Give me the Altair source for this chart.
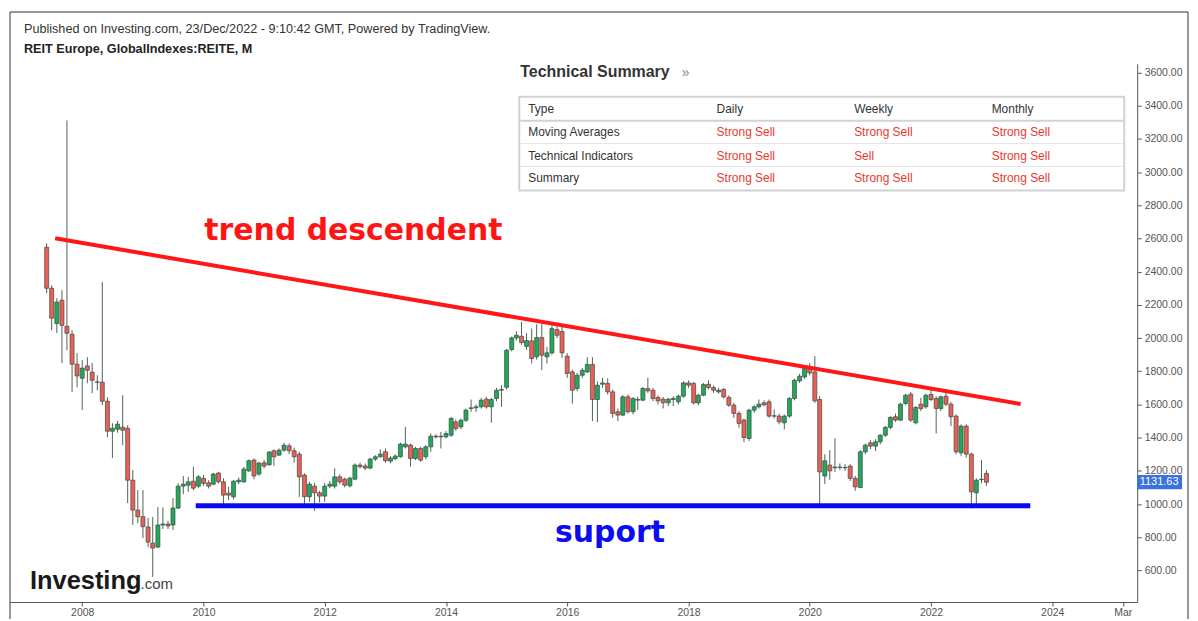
import altair as alt
import pandas as pd

# ---------------- data (monthly candles, Jun 2007 .. Dec 2022) ----------------
first_month = "2007-06-01"

opens = [
    2547, 2300, 2088, 2228, 2071, 2023, 1843,
    1758, 1832, 1795, 1736, 1734, 1620, 1439, 1451, 1463, 1457, 1144, 964,
    924, 862, 765, 741, 874, 880, 874, 976, 1108, 1114, 1138, 1108,
    1155, 1128, 1120, 1187, 1134, 1066, 1044, 1134, 1134, 1200, 1265, 1181,
    1249, 1237, 1321, 1295, 1325, 1351, 1321, 1301, 1175, 1044, 1108, 1068,
    1048, 1108, 1108, 1164, 1150, 1110, 1150, 1235, 1229, 1217, 1271, 1285,
    1315, 1259, 1273, 1285, 1345, 1355, 1275, 1335, 1285, 1345, 1409, 1405,
    1405, 1415, 1495, 1465, 1505, 1576, 1580, 1586, 1632, 1586, 1636, 1686,
    1704, 1931, 2001, 2011, 1950, 1983, 1887, 2003, 1887, 1911, 2051, 2040,
    1891, 1796, 1696, 1776, 1796, 1841, 1630, 1722, 1727, 1676, 1556, 1536,
    1646, 1556, 1630, 1626, 1696, 1686, 1642, 1632, 1610, 1630, 1616, 1650,
    1730, 1727, 1610, 1656, 1722, 1702, 1676, 1690, 1642, 1596, 1546, 1506,
    1395, 1566, 1586, 1610, 1616, 1530, 1530, 1490, 1530, 1636, 1742, 1766,
    1823, 1796, 1630, 1169, 1235, 1219, 1223, 1221, 1229, 1155, 1100, 1315,
    1369, 1349, 1375, 1415, 1462, 1526, 1506, 1606, 1662, 1490, 1602, 1586,
    1660, 1636, 1576, 1650, 1602, 1530, 1309, 1470, 1301, 1068, 1147, 1185,
]
highs = [
    2571, 2318, 2240, 2288, 3311, 2047, 1909,
    1867, 1885, 1849, 1776, 2338, 1644, 1487, 1500, 1656, 1475, 1205, 1084,
    1084, 916, 922, 982, 980, 900, 1036, 1126, 1170, 1164, 1225, 1175,
    1175, 1144, 1188, 1194, 1156, 1104, 1144, 1160, 1225, 1269, 1275, 1255,
    1265, 1320, 1329, 1335, 1370, 1365, 1340, 1315, 1185, 1134, 1128, 1080,
    1128, 1140, 1215, 1180, 1160, 1165, 1245, 1250, 1245, 1280, 1295, 1329,
    1335, 1290, 1300, 1370, 1465, 1365, 1345, 1345, 1355, 1425, 1420, 1435,
    1440, 1525, 1510, 1515, 1575, 1630, 1600, 1640, 1645, 1640, 1700, 1716,
    1935, 2010, 2040, 2097, 2030, 2057, 2083, 2089, 1947, 2077, 2070, 2067,
    1910, 1810, 1790, 1820, 1885, 1885, 1740, 1760, 1757, 1690, 1575, 1656,
    1660, 1645, 1646, 1705, 1760, 1700, 1655, 1645, 1640, 1650, 1660, 1740,
    1745, 1735, 1665, 1730, 1745, 1715, 1700, 1700, 1655, 1610, 1560, 1515,
    1575, 1595, 1630, 1625, 1630, 1570, 1545, 1540, 1645, 1755, 1785, 1825,
    1850, 1891, 1650, 1300, 1325, 1397, 1245, 1240, 1240, 1170, 1325, 1365,
    1385, 1390, 1420, 1470, 1530, 1545, 1610, 1665, 1675, 1590, 1640, 1665,
    1690, 1650, 1655, 1690, 1615, 1540, 1480, 1480, 1310, 1155, 1265, 1205,
]
lows = [
    2270, 2047, 2030, 1849, 1927, 1674, 1704,
    1566, 1728, 1668, 1686, 1596, 1403, 1277, 1430, 1355, 1006, 874, 885,
    795, 741, 561, 735, 850, 850, 844, 970, 1060, 1074, 1084, 1096,
    1110, 1094, 1114, 1125, 994, 1024, 1028, 1120, 1128, 1194, 1150, 1170,
    1215, 1230, 1231, 1290, 1315, 1300, 1250, 1044, 1000, 1014, 960, 1010,
    1014, 1095, 1094, 1120, 1100, 1100, 1144, 1215, 1205, 1210, 1260, 1280,
    1250, 1245, 1265, 1280, 1335, 1225, 1265, 1255, 1270, 1315, 1395, 1335,
    1395, 1405, 1440, 1450, 1495, 1556, 1555, 1575, 1575, 1490, 1620, 1586,
    1690, 1920, 1985, 1960, 1930, 1847, 1870, 1807, 1847, 1900, 2000, 1880,
    1760, 1605, 1680, 1760, 1790, 1500, 1494, 1700, 1660, 1520, 1500, 1530,
    1545, 1540, 1566, 1620, 1670, 1620, 1600, 1576, 1590, 1590, 1600, 1640,
    1700, 1600, 1595, 1650, 1690, 1670, 1665, 1635, 1585, 1520, 1460, 1373,
    1380, 1550, 1575, 1590, 1520, 1515, 1480, 1450, 1520, 1625, 1730, 1755,
    1775, 1610, 994, 1120, 1146, 1194, 1206, 1200, 1140, 1080, 1095, 1300,
    1330, 1320, 1360, 1405, 1450, 1495, 1500, 1595, 1495, 1480, 1560, 1575,
    1620, 1426, 1560, 1590, 1470, 1300, 1290, 1280, 974, 1000, 1126, 1110,
]
closes = [
    2300, 2120, 2217, 2077, 2029, 1843, 1772,
    1819, 1806, 1746, 1734, 1620, 1439, 1457, 1481, 1445, 1144, 964, 924,
    864, 771, 735, 874, 880, 868, 976, 1108, 1120, 1134, 1096, 1164,
    1125, 1108, 1181, 1134, 1054, 1054, 1138, 1144, 1211, 1261, 1169, 1247,
    1229, 1313, 1285, 1325, 1355, 1321, 1285, 1164, 1044, 1120, 1068, 1048,
    1108, 1120, 1164, 1134, 1114, 1156, 1235, 1225, 1217, 1271, 1285, 1301,
    1261, 1277, 1289, 1361, 1361, 1275, 1335, 1265, 1345, 1409, 1405, 1409,
    1425, 1516, 1455, 1505, 1566, 1580, 1586, 1626, 1586, 1630, 1686, 1690,
    1927, 2001, 2017, 1973, 1985, 1877, 2003, 1897, 1911, 2057, 2017, 1911,
    1787, 1686, 1776, 1806, 1841, 1630, 1716, 1730, 1676, 1546, 1536, 1646,
    1556, 1636, 1626, 1696, 1682, 1636, 1622, 1610, 1632, 1636, 1650, 1730,
    1716, 1610, 1656, 1720, 1702, 1686, 1686, 1646, 1596, 1546, 1486, 1401,
    1566, 1586, 1602, 1598, 1530, 1532, 1496, 1530, 1636, 1746, 1770, 1817,
    1790, 1622, 1194, 1261, 1200, 1223, 1221, 1219, 1155, 1104, 1315, 1355,
    1349, 1375, 1415, 1462, 1522, 1506, 1602, 1656, 1506, 1582, 1576, 1656,
    1630, 1576, 1646, 1602, 1526, 1315, 1470, 1301, 1074, 1144, 1150, 1131.63,
]

year_ticks = [2008, 2010, 2012, 2014, 2016, 2018, 2020, 2022, 2024]
price_ticks = [600, 800, 1000, 1200, 1400, 1600, 1800, 2000, 2200, 2400,
               2600, 2800, 3000, 3200, 3400, 3600]

trend_dates = ["2007-07-22", "2023-06-25"]
trend_values = [2601, 1603]
support_dates = ["2009-11-15", "2023-08-22"]
support_values = [990, 990]

summary_header = ["Type", "Daily", "Weekly", "Monthly"]
summary_types = ["Moving Averages", "Technical Indicators", "Summary"]
summary_daily = ["Strong Sell", "Strong Sell", "Strong Sell"]
summary_weekly = ["Strong Sell", "Sell", "Strong Sell"]
summary_monthly = ["Strong Sell", "Strong Sell", "Strong Sell"]

last_price = 1131.63

published_text = "Published on Investing.com, 23/Dec/2022 - 9:10:42 GMT, Powered by TradingView."
symbol_text = "REIT Europe, GlobalIndexes:REITE, M"

# ---------------- build ----------------
months = pd.date_range(first_month, periods=len(closes), freq="MS").strftime("%Y-%m-%d").tolist()
candles = pd.DataFrame({"month": months, "open": opens, "high": highs,
                        "low": lows, "close": closes})

W, H = 1131, 540
FONT = "Liberation Sans"
GREEN = "#22a85b"
RED = "#ec5f57"
WICK = "#4e6357"

x_scale = alt.Scale(domain=[alt.DateTime(year=2006, month=11, date=22),
                            alt.DateTime(year=2025, month=4, date=27)], nice=False)
y_scale = alt.Scale(domain=[410, 3652], nice=False, zero=False)

x_axis = alt.Axis(
    values=[alt.DateTime(year=y, month=1, date=1) for y in year_ticks]
    + [alt.DateTime(year=2025, month=3, date=1)],
    labelExpr="month(datum.value) == 2 ? 'Mar' : timeFormat(datum.value, '%Y')",
    grid=False, domainColor="#555", tickColor="#555", tickSize=4,
    labelColor="#555", labelFont=FONT, labelFontSize=10.5, labelPadding=2,
    labelFlush=False, labelOverlap=False,
)
y_axis = alt.Axis(
    orient="right", values=price_ticks, format=".2f", grid=False,
    domainColor="#555", tickColor="#555", tickSize=4, labelColor="#555",
    labelFont=FONT, labelFontSize=10.5, labelPadding=3, labelFlush=False,
    labelOverlap=False,
)


def X(field):
    return alt.X(field, scale=x_scale, axis=x_axis, title=None)


def Y(field):
    return alt.Y(field, scale=y_scale, axis=y_axis, title=None)


base = alt.Chart(candles).encode(x=X("month:T"))
wicks = base.mark_rule(color=WICK, strokeWidth=1).encode(y=Y("low:Q"), y2="high:Q")
bodies = base.mark_bar(width=4, stroke="#3b4a41", strokeWidth=0.7).encode(
    y=Y("open:Q"),
    y2="close:Q",
    color=alt.condition("datum.close >= datum.open", alt.value(GREEN), alt.value(RED)),
)

trend = alt.Chart(pd.DataFrame({"d": trend_dates, "v": trend_values})).mark_line(
    color="#ff1717", strokeWidth=4).encode(x=X("d:T"), y=Y("v:Q"))
support = alt.Chart(pd.DataFrame({"d": support_dates, "v": support_values})).mark_line(
    color="#0a0af0", strokeWidth=5).encode(x=X("d:T"), y=Y("v:Q"))


def one():
    return pd.DataFrame({"k": [0]})


def text_layer(text, x, y, size, color, weight="normal", font=FONT, align="left"):
    return alt.Chart(pd.DataFrame({"t": [text]})).mark_text(
        align=align, baseline="alphabetic", fontSize=size, font=font,
        fontWeight=weight, color=color,
    ).encode(x=alt.value(x), y=alt.value(y), text="t:N")


layers = [wicks, bodies, trend, support]

# outer frame
layers.append(alt.Chart(one()).mark_rect(fill="white", fillOpacity=0, stroke="#333",
                                          strokeWidth=1).encode(
    x=alt.value(0), x2=alt.value(1182), y=alt.value(-52), y2=alt.value(600)))

# header texts
layers.append(text_layer(published_text, 14, -31, 12.7, "#333"))
layers.append(text_layer(symbol_text, 14, -11, 12.7, "#222", weight="bold"))

# technical summary
layers.append(text_layer("Technical Summary", 512, 13, 16, "#333", weight="bold"))
layers.append(text_layer("\u00bb", 674, 13, 14, "#888"))
layers.append(alt.Chart(one()).mark_rect(fill="white", stroke="#d2d2d2", strokeWidth=2).encode(
    x=alt.value(511), x2=alt.value(1118), y=alt.value(33), y2=alt.value(127)))
layers.append(alt.Chart(one()).mark_rule(color="#d2d2d2", strokeWidth=2).encode(
    x=alt.value(512), x2=alt.value(1117), y=alt.value(57)))
for sy in (80, 103):
    layers.append(alt.Chart(one()).mark_rule(color="#e4e4e4", strokeWidth=1).encode(
        x=alt.value(512), x2=alt.value(1117), y=alt.value(sy)))

col_x = [520, 709, 847, 985]
row_y = [49, 72, 96, 119]
for c, h in enumerate(summary_header):
    layers.append(text_layer(h, col_x[c], row_y[0], 12, "#333"))
for r, (t, d, w, m) in enumerate(zip(summary_types, summary_daily,
                                     summary_weekly, summary_monthly), start=1):
    layers.append(text_layer(t, col_x[0], row_y[r], 12, "#333"))
    for c, val in enumerate((d, w, m), start=1):
        layers.append(text_layer(val, col_x[c], row_y[r], 12, "#e8392f"))

# annotations
layers.append(text_layer("trend descendent", 195, 177, 30, "#ff1414",
                         weight="bold", font="DejaVu Sans"))
layers.append(text_layer("suport", 602, 480, 30, "#0c0cf0",
                         weight="bold", font="DejaVu Sans", align="center"))

# logo
layers.append(text_layer("Investing", 20, 527, 25.5, "#1a1a1a", weight="bold"))
layers.append(text_layer(".com", 131, 527, 15, "#444"))

# last price tag
price_df = pd.DataFrame({"v": [last_price], "t": [f"{last_price:.2f}"]})
layers.append(alt.Chart(price_df).transform_calculate(
    top="datum.v + 43", bot="datum.v - 43").mark_rect(color="#3a72e0").encode(
    x=alt.value(1131), x2=alt.value(1176), y=Y("top:Q"), y2="bot:Q"))
layers.append(alt.Chart(price_df).mark_text(
    color="white", fontSize=11, font=FONT, align="center", baseline="middle").encode(
    x=alt.value(1153), y=Y("v:Q"), text="t:N"))

chart = alt.layer(*layers).properties(
    width=W, height=H,
    autosize=alt.AutoSizeParams(type="none"),
    padding={"left": 2, "top": 55, "right": 53, "bottom": 16},
    background="white",
).configure_view(strokeWidth=0).configure_axis(labelOverlap=False)

chart.save("out.html", embed_options={"renderer": "svg", "actions": False})
